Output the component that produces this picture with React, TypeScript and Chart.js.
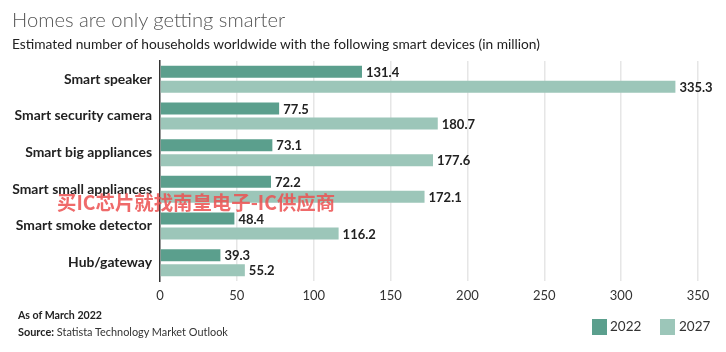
import React, { useEffect, useRef } from "react";
import { Chart, registerables } from "chart.js";

Chart.register(...registerables);

const categories = [
  "Smart speaker",
  "Smart security camera",
  "Smart big appliances",
  "Smart small appliances",
  "Smart smoke detector",
  "Hub/gateway",
];
const values2022 = [131.4, 77.5, 73.1, 72.2, 48.4, 39.3];
const values2027 = [335.3, 180.7, 177.6, 172.1, 116.2, 55.2];
const seriesLabels = ["2022", "2027"];
const xTicks = [0, 50, 100, 150, 200, 250, 300, 350];

const COLOR_2022 = "#5b9f8d";
const COLOR_2027 = "#9cc6b9";
const FONT = "Lato, 'Source Sans Pro', 'Noto Sans', sans-serif";

const valueLabelPlugin = {
  id: "valueLabels",
  afterDatasetsDraw(chart: any) {
    const ctx = chart.ctx;
    ctx.save();
    ctx.font = `bold 13px ${FONT}`;
    ctx.fillStyle = "#222";
    ctx.textBaseline = "middle";
    ctx.textAlign = "left";
    chart.data.datasets.forEach((ds: any, di: number) => {
      const meta = chart.getDatasetMeta(di);
      meta.data.forEach((el: any, i: number) => {
        ctx.fillText(Number(ds.data[i]).toFixed(1), el.x + 4, el.y + 1);
      });
    });
    ctx.restore();
  },
};

export default function App() {
  const canvasRef = useRef<HTMLCanvasElement | null>(null);

  useEffect(() => {
    document.body.style.margin = "0";
    const canvas = canvasRef.current;
    if (!canvas) return;
    const chart = new Chart(canvas, {
      type: "bar",
      data: {
        labels: categories,
        datasets: [
          {
            label: seriesLabels[0],
            data: values2022,
            backgroundColor: COLOR_2022,
            categoryPercentage: 0.82,
            barPercentage: 0.8,
          },
          {
            label: seriesLabels[1],
            data: values2027,
            backgroundColor: COLOR_2027,
            categoryPercentage: 0.82,
            barPercentage: 0.8,
          },
        ],
      },
      options: {
        indexAxis: "y",
        responsive: false,
        animation: false,
        devicePixelRatio: 1,
        layout: { padding: { left: 0, right: 28, top: 61, bottom: 51 } },
        plugins: {
          legend: { display: false },
          title: { display: false },
          tooltip: { enabled: false },
        },
        scales: {
          x: {
            type: "linear",
            min: xTicks[0],
            max: xTicks[xTicks.length - 1],
            afterBuildTicks: (scale: any) => {
              scale.ticks = xTicks.map((v) => ({ value: v }));
            },
            afterFit: (scale: any) => {
              scale.height = 20;
            },
            ticks: {
              color: "#333",
              font: { family: FONT, size: 13 },
              padding: 7,
            },
            grid: {
              drawTicks: false,
              lineWidth: 1.5,
              color: (c: any) => (c.tick && c.tick.value === 0 ? "rgba(0,0,0,0)" : "#e6e6e6"),
            },
            border: { display: false },
          },
          y: {
            afterFit: (scale: any) => {
              scale.width = 160;
            },
            ticks: {
              color: "#222",
              font: { family: FONT, size: 13.9, weight: "bold" },
              padding: 8,
            },
            grid: { display: false, drawTicks: false },
            border: { display: true, color: "#333", width: 1.5, dash: [1.5, 2] },
          },
        },
      },
      plugins: [valueLabelPlugin],
    } as any);
    return () => chart.destroy();
  }, []);

  const text: React.CSSProperties = { position: "absolute", fontFamily: FONT, whiteSpace: "nowrap", margin: 0 };

  return (
    <div style={{ position: "fixed", left: 0, top: 0, width: 726, height: 352, background: "#fff", overflow: "hidden" }}>
      <canvas ref={canvasRef} width={726} height={352} style={{ position: "absolute", left: 0, top: 0, width: 726, height: 352 }} />
      <div style={{ ...text, left: 12, top: 7, fontSize: 20.2, fontWeight: 300, color: "#555" }}>Homes are only getting smarter</div>
      <div style={{ ...text, left: 12, top: 35, fontSize: 13.75, color: "#222" }}>
        Estimated number of households worldwide with the following smart devices (in million)
      </div>
      <div style={{ ...text, left: 18, top: 309, fontSize: 10.6, fontWeight: 700, color: "#222" }}>As of March 2022</div>
      <div style={{ ...text, left: 18, top: 325, fontSize: 10.9, color: "#333" }}>
        <b style={{ color: "#222" }}>Source:</b> Statista Technology Market Outlook
      </div>
      <div style={{ position: "absolute", left: 592, top: 319, width: 15, height: 16, background: COLOR_2022 }} />
      <div style={{ ...text, left: 610, top: 318, fontSize: 13.5, color: "#333" }}>{seriesLabels[0]}</div>
      <div style={{ position: "absolute", left: 660, top: 319, width: 15, height: 16, background: COLOR_2027 }} />
      <div style={{ ...text, left: 679, top: 318, fontSize: 13.5, color: "#333" }}>{seriesLabels[1]}</div>
      <div
        style={{
          ...text,
          left: 57,
          top: 187,
          fontSize: 19.4,
          fontWeight: 700,
          color: "rgba(236, 80, 80, 0.85)",
          fontFamily: "'Noto Sans CJK SC', sans-serif",
        }}
      >
        买IC芯片就找南皇电子-IC供应商
      </div>
    </div>
  );
}
